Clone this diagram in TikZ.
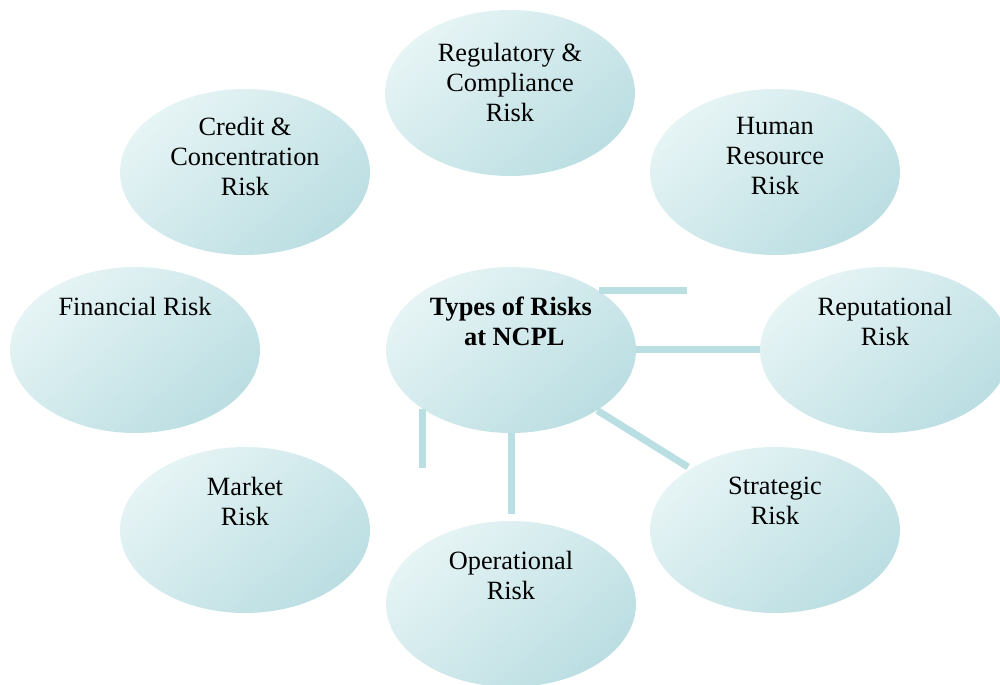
\documentclass[tikz,border=0pt]{standalone}
\usepackage{fontspec}
\setmainfont{Liberation Serif}
\usetikzlibrary{shapes.geometric,calc,positioning}

\definecolor{bubLight}{HTML}{E6F4F5}
\definecolor{bubDark}{HTML}{BBDEE2}
\definecolor{linkTeal}{HTML}{B9DFE3}

\begin{document}
\begin{tikzpicture}[x=0.02cm, y=-0.02cm,
    every node/.style={font=\fontsize{15}{17}\selectfont},
    riskbub/.style={ellipse, minimum width=5cm, minimum height=3.32cm, inner sep=0pt,
      top color=bubLight, middle color=bubLight!80!bubDark, bottom color=bubDark, shading angle=40},
    risktxt/.style={anchor=north, align=center, inner sep=0pt},
    link/.style={linkTeal, line width=0.14cm}]
  \useasboundingbox (0,0) rectangle (1000,685);

  % the bubbles
  \node[riskbub] (reg) at (510,93)  {};
  \node[riskbub] (cre) at (245,172) {};
  \node[riskbub] (hum) at (775,172) {};
  \node[riskbub] (fin) at (135,350) {};
  \node[riskbub] (ctr) at (511,350) {};
  \node[riskbub] (rep) at (885,350) {};
  \node[riskbub] (mkt) at (245,530) {};
  \node[riskbub] (stg) at (775,530) {};
  \node[riskbub] (ops) at (511,604) {};

  % their texts
  \node[risktxt] (regtxt) at ([yshift=1.0cm]reg.center) {Regulatory \&\\Compliance\\Risk};
  \node[risktxt] (cretxt) at ([yshift=1.1cm]cre.center) {Credit \&\\Concentration\\Risk};
  \node[risktxt] (humtxt) at ([yshift=1.1cm]hum.center) {Human\\Resource\\Risk};
  \node[risktxt] (fintxt) at ([yshift=1.06cm]fin.center) {Financial Risk};
  \node[risktxt,font=\fontsize{15}{17}\selectfont\bfseries] (ctrtxt) at ([yshift=1.06cm]ctr.center) {Types of Risks\\\ at NCPL};
  \node[risktxt] (reptxt) at ([yshift=1.06cm]rep.center) {Reputational\\Risk};
  \node[risktxt] (mkttxt) at ([yshift=1.06cm]mkt.center) {Market\\Risk};
  \node[risktxt] (stgtxt) at ([yshift=1.06cm]stg.center) {Strategic\\Risk};
  \node[risktxt] (opstxt) at ([yshift=1.06cm]ops.center) {Operational\\Risk};

  % connectors
  \coordinate (topend) at (687,290);
  \coordinate (diagend) at (688,467);
  \coordinate (lowend) at (422,468);
  \draw[link] (ctr.34) -- (ctr.34 -| topend);
  \draw[link] (ctr.east) -- (rep.west);
  \draw[link] (ctr.-35) -- (diagend);
  \draw[link] (lowend |- ctr.-146) -- (lowend);
  \draw[link] (ctr.south) -- ([yshift=0.14cm]ops.north);
\end{tikzpicture}
\end{document}
